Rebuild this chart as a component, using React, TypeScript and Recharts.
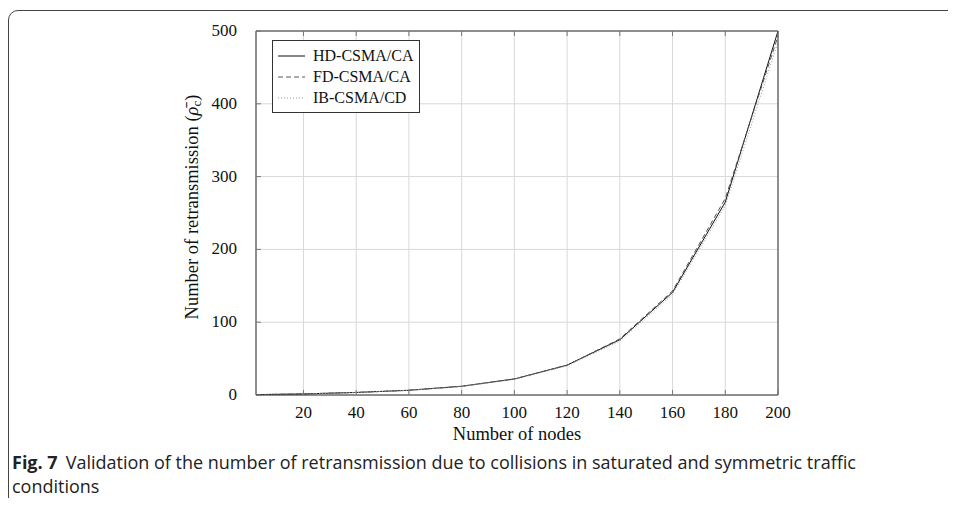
import { LineChart, Line, XAxis, YAxis, CartesianGrid, Legend } from "recharts";

// number of nodes
const nodes = [2, 20, 40, 60, 80, 100, 120, 140, 160, 180, 200];
// mean retransmissions per series
const hdCsmaCa = [0.5, 1.5, 3.5, 6.5, 12, 22, 41, 76, 141, 265, 500];
const fdCsmaCa = [0.5, 1.5, 3.5, 6.5, 12, 22, 41, 77, 143, 270, 493];
const ibCsmaCd = [0.5, 1.4, 3.4, 6.3, 11.5, 21.5, 40, 74, 138, 260, 485];

const xTicks = [20, 40, 60, 80, 100, 120, 140, 160, 180, 200];
const yTicks = [0, 100, 200, 300, 400, 500];

const series = [
  { key: "hd", name: "HD-CSMA/CA", color: "#111", dash: undefined as string | undefined },
  { key: "fd", name: "FD-CSMA/CA", color: "#555", dash: "5 3" },
  { key: "ib", name: "IB-CSMA/CD", color: "#999", dash: "1 2" },
];

const data = nodes.map((n, i) => ({
  n,
  hd: hdCsmaCa[i],
  fd: fdCsmaCa[i],
  ib: ibCsmaCd[i],
}));

const serif = "'Liberation Serif', 'DejaVu Serif', serif";

function BottomTick(props: any) {
  const { x, y, payload } = props;
  return (
    <g>
      <line x1={x} x2={x} y1={y} y2={y - 5} stroke="#777" />
      <text x={x} y={y + 23} textAnchor="middle" fontFamily={serif} fontSize={17} fill="#111">
        {payload.value}
      </text>
    </g>
  );
}

function TopTick(props: any) {
  const { x, y } = props;
  return <line x1={x} x2={x} y1={y} y2={y + 5} stroke="#777" />;
}

function LeftTick(props: any) {
  const { x, y, payload } = props;
  return (
    <g>
      <line x1={x} x2={x + 5} y1={y} y2={y} stroke="#777" />
      <text x={x - 19} y={y + 5} textAnchor="end" fontFamily={serif} fontSize={17} fill="#111">
        {payload.value}
      </text>
    </g>
  );
}

function RightTick(props: any) {
  const { x, y } = props;
  return <line x1={x} x2={x - 5} y1={y} y2={y} stroke="#777" />;
}

function LegendBox() {
  return (
    <div
      style={{
        border: "1px solid #333",
        background: "#fff",
        width: 146,
        padding: "4px 0 4px 0",
        fontFamily: serif,
        fontSize: 16,
        color: "#111",
        textAlign: "left",
      }}
    >
      {series.map((s) => (
        <div key={s.key} style={{ display: "flex", alignItems: "center", height: 21 }}>
          <svg width={40} height={10}>
            <line x1={5} x2={32} y1={5} y2={5} stroke={s.color} strokeWidth={1} strokeDasharray={s.dash} />
          </svg>
          <span>{s.name}</span>
        </div>
      ))}
    </div>
  );
}

function YLabel() {
  const cy = 207;
  const cx = 192;
  return (
    <text
      transform={`translate(${cx},${cy}) rotate(-90)`}
      textAnchor="middle"
      dominantBaseline="central"
      fontFamily={serif}
      fontSize={18.5}
      fill="#111"
    >
      Number of retransmission (
      <tspan fontStyle="italic">ρ̄</tspan>
      <tspan fontSize={13} dy={4}>c</tspan>
      <tspan dy={-4}>)</tspan>
    </text>
  );
}

export default function App() {
  return (
    <div style={{ position: "relative", margin: -8, width: 956, height: 506, overflow: "hidden", background: "#fff" }}>
      <div
        style={{
          position: "absolute",
          left: 8,
          top: 10,
          width: 1000,
          height: 496,
          border: "1px solid #444",
          borderRadius: 10,
        }}
      />
      <div style={{ position: "absolute", left: 0, top: 0 }}>
        <LineChart width={956} height={450} data={data} margin={{ top: 30, right: 177, bottom: 15, left: 196 }}>
          <CartesianGrid xAxisId="b" yAxisId="l" stroke="#d8d8d8" strokeWidth={1} />
          <XAxis
            dataKey="n"
            type="number"
            domain={[2, 200]}
            ticks={xTicks}
            xAxisId="b"
            height={40}
            tickSize={0}
            tickMargin={0}
            tickLine={false}
            axisLine={{ stroke: "#333" }}
            tick={<BottomTick />}
            label={{ value: "Number of nodes", position: "insideBottom", offset: -5, fontFamily: serif, fontSize: 18.5, fill: "#111" }}
          />
          <XAxis
            dataKey="n"
            type="number"
            domain={[2, 200]}
            ticks={xTicks}
            xAxisId="t"
            orientation="top"
            height={1}
            tickSize={0}
            tickMargin={0}
            tickLine={false}
            axisLine={{ stroke: "#333" }}
            tick={<TopTick />}
          />
          <YAxis
            yAxisId="l"
            type="number"
            domain={[0, 500]}
            ticks={yTicks}
            width={60}
            tickSize={0}
            tickMargin={0}
            tickLine={false}
            axisLine={{ stroke: "#333" }}
            tick={<LeftTick />}
            label={<YLabel />}
          />
          <YAxis
            yAxisId="r"
            orientation="right"
            type="number"
            domain={[0, 500]}
            ticks={yTicks}
            width={1}
            tickSize={0}
            tickMargin={0}
            tickLine={false}
            axisLine={{ stroke: "#333" }}
            tick={<RightTick />}
          />
          {series.map((s) => (
            <Line
              key={s.key}
              xAxisId="b"
              yAxisId="l"
              type="linear"
              dataKey={s.key}
              name={s.name}
              stroke={s.color}
              strokeWidth={1}
              strokeDasharray={s.dash}
              dot={false}
              isAnimationActive={false}
            />
          ))}
          <Legend
            layout="horizontal"
            verticalAlign="middle"
            align="center"
            wrapperStyle={{ position: "absolute", top: 40, left: 272, width: 148, height: 72 }}
            content={<LegendBox />}
          />
        </LineChart>
      </div>
      <div
        style={{
          position: "absolute",
          left: 12,
          top: 450,
          width: 920,
          fontFamily: "'Open Sans', 'Noto Sans', sans-serif",
          fontSize: 18,
          lineHeight: "24px",
          color: "#222",
        }}
      >
        <div style={{ whiteSpace: "nowrap" }}>
          <span style={{ fontWeight: 700, marginRight: 8 }}>Fig. 7</span>
          <span>Validation of the number of retransmission due to collisions in saturated and symmetric traffic</span>
        </div>
        <div>conditions</div>
      </div>
    </div>
  );
}
